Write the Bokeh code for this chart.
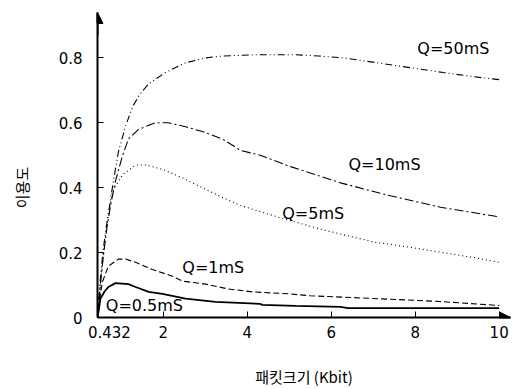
from bokeh.plotting import figure
from bokeh.models import Range1d, FixedTicker, Label, Arrow, NormalHead
from bokeh.embed import file_html
from bokeh.resources import INLINE

# ---- data ----
x_q50 = [0.432, 0.5, 0.56, 0.62, 0.69, 0.81, 0.93, 1.1, 1.27, 1.45, 1.65, 2.05, 2.53, 3.0, 3.41, 4.3, 5.1, 5.7, 6.29, 7.1, 7.88, 8.67, 9.4, 10.0]
y_q50 = [0.0, 0.12, 0.2, 0.26, 0.32, 0.42, 0.51, 0.59, 0.65, 0.69, 0.72, 0.755, 0.785, 0.80, 0.806, 0.81, 0.81, 0.806, 0.80, 0.785, 0.77, 0.755, 0.742, 0.733]

x_q10 = [0.432, 0.5, 0.58, 0.66, 0.75, 0.86, 1.03, 1.17, 1.41, 1.81, 2.12, 2.53, 2.93, 3.41, 3.84, 4.31, 5.03, 6.22, 7.41, 8.6, 10.0]
y_q10 = [0.0, 0.1, 0.2, 0.28, 0.35, 0.42, 0.5, 0.55, 0.58, 0.60, 0.60, 0.588, 0.573, 0.55, 0.515, 0.50, 0.465, 0.415, 0.375, 0.34, 0.31]

x_q5 = [0.432, 0.5, 0.58, 0.67, 0.79, 1.03, 1.34, 1.57, 1.98, 2.46, 2.93, 3.41, 3.84, 4.72, 5.81, 7.0, 8.19, 9.38, 10.0]
y_q5 = [0.0, 0.1, 0.2, 0.3, 0.39, 0.44, 0.47, 0.47, 0.457, 0.43, 0.40, 0.37, 0.345, 0.31, 0.27, 0.233, 0.21, 0.185, 0.17]

x_q1 = [0.432, 0.5, 0.55, 0.69, 0.93, 1.1, 1.34, 1.74, 2.22, 2.46, 3.0, 3.55, 4.12, 4.98, 5.5, 7.1, 8.5, 10.0]
y_q1 = [0.0, 0.07, 0.11, 0.158, 0.18, 0.18, 0.17, 0.148, 0.127, 0.112, 0.103, 0.088, 0.079, 0.073, 0.067, 0.058, 0.05, 0.037]

x_q05 = [0.432, 0.47, 0.5, 0.6, 0.69, 0.86, 1.17, 1.34, 1.65, 1.98, 2.53, 3.24, 4.3, 4.36, 5.15, 6.22, 6.4, 10.0]
y_q05 = [0.0, 0.03, 0.058, 0.08, 0.094, 0.106, 0.103, 0.094, 0.079, 0.073, 0.058, 0.048, 0.042, 0.039, 0.036, 0.033, 0.029, 0.029]

series_labels = ["Q=50mS", "Q=10mS", "Q=5mS", "Q=1mS", "Q=0.5mS"]
label_x = [8.91, 7.27, 5.57, 3.19, 1.55]
label_y = [0.83, 0.473, 0.321, 0.155, 0.036]

x_ticks = [0.432, 2, 4, 6, 8, 10]
x_tick_labels = ["0.432", "2", "4", "6", "8", "10"]
y_ticks = [0, 0.2, 0.4, 0.6, 0.8]
y_tick_labels = ["0", "0.2", "0.4", "0.6", "0.8"]
x_title = "패킷크기 (Kbit)"
y_title = "이용도"

FONT = "DejaVu Sans"
KFONT = "Noto Sans CJK KR"
NBSP = "\u00a0"

p = figure(width=518, height=389, output_backend="svg", toolbar_location=None,
           x_range=Range1d(0.432, 10.27), y_range=Range1d(0, 0.94),
           min_border_left=97, min_border_right=8, min_border_top=12, min_border_bottom=71)
p.outline_line_color = None
p.grid.visible = False
p.background_fill_color = "white"
p.border_fill_color = "white"

for ax in (p.xaxis[0], p.yaxis[0]):
    ax.axis_line_width = 2
    ax.axis_line_color = "black"
    ax.major_tick_in = 6
    ax.major_tick_out = 0
    ax.major_tick_line_color = "black"
    ax.minor_tick_line_color = None
    ax.major_label_text_font = FONT
    ax.major_label_text_font_size = "15px"
    ax.major_label_text_color = "black"
    ax.axis_label_text_font = KFONT
    ax.axis_label_text_font_size = "15px"
    ax.axis_label_text_font_style = "normal"
    ax.axis_label_text_color = "black"

p.xaxis.ticker = FixedTicker(ticks=x_ticks)
p.yaxis.ticker = FixedTicker(ticks=y_ticks)
xo = {t: l for t, l in zip(x_ticks, x_tick_labels)}
# shift the first label to the right of the axis corner, as in the reference
xo[x_ticks[0]] = NBSP * 5 + x_tick_labels[0]
p.xaxis.major_label_overrides = xo
p.yaxis.major_label_overrides = {t: l for t, l in zip(y_ticks, y_tick_labels)}
p.xaxis.major_label_standoff = 6
p.yaxis.major_label_standoff = 15

p.xaxis.axis_label = x_title
p.xaxis.axis_label_standoff = 21
p.yaxis.axis_label = y_title + "\u3000" * 3
p.yaxis.axis_label_standoff = 24

lw = 1.1
p.line(x_q50, y_q50, line_color="black", line_width=lw, line_dash="7 3 1 3 1 3")
p.line(x_q10, y_q10, line_color="black", line_width=lw, line_dash="9 3 2 3")
p.line(x_q5, y_q5, line_color="black", line_width=lw, line_dash="1 3")
p.line(x_q1, y_q1, line_color="black", line_width=lw, line_dash="6 3")
p.line(x_q05, y_q05, line_color="black", line_width=1.8)

for t, lx, ly in zip(series_labels, label_x, label_y):
    p.add_layout(Label(x=lx, y=ly, text=t, text_align="center", text_baseline="middle",
                       text_font=FONT, text_font_size="16px", text_color="black"))

# arrow heads at axis ends
p.add_layout(Arrow(end=NormalHead(size=11, fill_color="black", line_color="black"),
                   x_start=0.432, y_start=0.87, x_end=0.432, y_end=0.94,
                   line_width=2, line_color="black"))
p.add_layout(Arrow(end=NormalHead(size=11, fill_color="black", line_color="black"),
                   x_start=10.0, y_start=0, x_end=10.27, y_end=0,
                   line_width=2, line_color="black"))

open("out.html", "w").write(file_html(p, INLINE))
